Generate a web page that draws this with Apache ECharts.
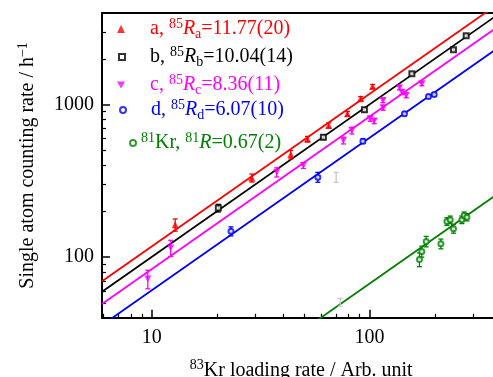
<!DOCTYPE html>
<html><head><meta charset="utf-8">
<script src="https://cdn.jsdelivr.net/npm/echarts@6/dist/echarts.min.js"></script>
<style>html,body{margin:0;padding:0;background:#fff}#c{width:493px;height:377px}</style>
</head><body><div id="c"></div>
<script>
// ---- tick values ----
const xMajorTicks = [10, 100];
const xMinorTicks = [6, 7, 8, 9, 20, 30, 40, 50, 60, 70, 80, 90, 200, 300];
const yMajorTicks = [100, 1000];
const yMinorTicks = [50, 60, 70, 80, 90, 200, 300, 400, 500, 600, 700, 800, 900, 2000, 3000];

// ---- data: a (85Kr, R=11.77) ----
const aX = [12.8, 28.8, 43.5, 51.9, 64.9, 79.2, 91.1, 103.4];
const aY = [163, 331, 471, 595, 732, 873, 1095, 1318];
const aErr = [15, 20, 30, 25, 28, 30, 35, 40];
// ---- b ----
const bX = [20.2, 61.4, 94.8, 156.6, 243.2, 278.2];
const bY = [210, 612, 927, 1597, 2296, 2837];
const bErr = [12, 20, 25, 30, 40, 45];
// ---- c ----
const cX = [9.58, 12.2, 37.5, 49.7, 75.9, 83.0, 100.7, 105.1, 115.3, 115.7, 137.4, 140.9, 147.5, 174];
const cY = [72, 115, 361, 400, 583, 678, 809, 781, 1067, 955, 1293, 1209, 1151, 1373];
const cErr = [10, 14, 25, 18, 30, 35, 30, 30, 35, 35, 40, 40, 40, 40];
// ---- d ----
const dX = [23.1, 57.9, 93.3, 144.8, 186.7, 198.3];
const dY = [148, 335, 577, 873, 1134, 1168];
const dErr = [10, 25, 20, 25, 30, 30];
// ---- 81Kr ----
const gX = [169.7, 174, 182.2, 212.9, 226.9, 234.9, 243.2, 265.8, 272.4, 280.3];
const gY = [96.6, 109, 126.8, 122.4, 171.5, 176, 153.6, 176, 187.7, 183];
const gErr = [10, 9, 10, 9, 10, 10, 10, 10, 10, 10];
// ---- faint grey points ----
const ghostX = [70.3, 73.4];
const ghostY = [335, 50.7];
const ghostErr = [25, 3];
// ---- fitted lines (endpoints) ----
const fitA = [[5.9, 69.4], [400, 4708]];
const fitB = [[5.9, 59.2], [400, 4016]];
const fitC = [[5.9, 49.3], [400, 3344]];
const fitD = [[5.9, 35.8], [400, 2428]];
const fitG = [[5.9, 3.95], [400, 268]];

const FF = 'Liberation Serif';
const RED = '#ff0000', BLK = '#000000', MAG = '#ff00ff', BLU = '#0000ff', GRN = '#008000';
const rich = {
  n: {fontSize: 20, lineHeight: 24, fontFamily: FF},
  it: {fontSize: 20, lineHeight: 24, fontFamily: FF, fontStyle: 'italic'},
  sup: {fontSize: 14, lineHeight: 13, fontFamily: FF, verticalAlign: 'top'},
  sub: {fontSize: 14, lineHeight: 17, fontFamily: FF, verticalAlign: 'bottom'},
  sp: {width: 20, fontSize: 20, lineHeight: 24}
};

function pts(X, Y) { return X.map((x, i) => [x, Y[i]]); }
function errPts(X, Y, E) { return X.map((x, i) => [x, Y[i], E[i]]); }
function errSeries(X, Y, E, color) {
  return {
    type: 'custom', z: 3, silent: true,
    data: errPts(X, Y, E),
    renderItem: function (params, api) {
      const x = api.value(0), y = api.value(1), e = api.value(2);
      const hi = api.coord([x, y + e]), lo = api.coord([x, y - e]);
      const w = 2.5;
      const st = {stroke: color, lineWidth: 1.3};
      return {type: 'group', children: [
        {type: 'line', shape: {x1: hi[0], y1: hi[1], x2: lo[0], y2: lo[1]}, style: st},
        {type: 'line', shape: {x1: hi[0] - w, y1: hi[1], x2: hi[0] + w, y2: hi[1]}, style: st},
        {type: 'line', shape: {x1: lo[0] - w, y1: lo[1], x2: lo[0] + w, y2: lo[1]}, style: st}
      ]};
    }
  };
}
function fitSeries(d, color) {
  return {type: 'line', data: d, showSymbol: false, symbol: 'none', z: 2, silent: true,
    lineStyle: {color: color, width: 1.8}, clip: true};
}
function legendComp(name, left, top, color, text, size) {
  return {
    data: [name], left: left, top: top, padding: 0, itemWidth: size, itemHeight: size,
    selectedMode: false,
    formatter: function () { return text; },
    textStyle: {color: color, fontFamily: FF, fontSize: 20, rich: rich}
  };
}
function tickLabel(v) { return '{n|' + Math.round(v) + '}'; }
const triDown = 'path://M0,0 L10,0 L5,9 Z';

const chart = echarts.init(document.getElementById('c'), null, {renderer: 'canvas'});
chart.setOption({
  animation: false,
  backgroundColor: '#fff',
  textStyle: {fontFamily: FF},
  grid: {left: 102, top: 13, width: 398.5, height: 304.8, containLabel: false, outerBoundsMode: 'none'},
  legend: [
    legendComp('a', 117, 17, RED, '{sp| }{n|a, }{sup|85}{it|R}{sub|a}{n|=11.77(20)}', 8),
    legendComp('b', 118, 45, BLK, '{sp| }{n|b, }{sup|85}{it|R}{sub|b}{n|=10.04(14)}', 6),
    legendComp('c', 117, 73, MAG, '{sp| }{n|c, }{sup|85}{it|R}{sub|c}{n|=8.36(11)}', 8),
    legendComp('d', 119, 98, BLU, '{sp| }{n|d, }{sup|85}{it|R}{sub|d}{n|=6.07(10)}', 6),
    legendComp('Kr81', 129, 131, GRN, '{sup|81}{n|Kr, }{sup|81}{it|R}{n|=0.67(2)}', 6)
  ],
  xAxis: [
    {type: 'log', logBase: 10, min: 5.9, max: 400, position: 'bottom',
      axisLine: {lineStyle: {color: '#000', width: 2}},
      axisTick: {inside: true, length: 8, lineStyle: {color: '#000', width: 1.5}, customValues: xMajorTicks},
      axisLabel: {customValues: xMajorTicks, color: '#000', fontSize: 20, margin: 8, fontFamily: FF,
        formatter: tickLabel, rich: rich},
      splitLine: {show: false}, minorTick: {show: false},
      name: '{sup|83}{n|Kr loading rate / Arb. unit}', nameLocation: 'middle', nameGap: 41,
      nameTextStyle: {color: '#000', fontFamily: FF, fontSize: 20, rich: rich}},
    {type: 'log', logBase: 10, min: 5.9, max: 400, position: 'bottom', offset: 0,
      axisLine: {show: false},
      axisTick: {inside: true, length: 4, lineStyle: {color: '#000', width: 1.2}, customValues: xMinorTicks},
      axisLabel: {show: false}, splitLine: {show: false}},
    {type: 'log', logBase: 10, min: 5.9, max: 400, position: 'top',
      axisLine: {lineStyle: {color: '#000', width: 2}},
      axisTick: {show: false}, axisLabel: {show: false}, splitLine: {show: false}}
  ],
  yAxis: [
    {type: 'log', logBase: 10, min: 40, max: 4000, position: 'left',
      axisLine: {lineStyle: {color: '#000', width: 2}},
      axisTick: {inside: true, length: 8, lineStyle: {color: '#000', width: 1.5}, customValues: yMajorTicks},
      axisLabel: {customValues: yMajorTicks, color: '#000', fontSize: 20, margin: 8, fontFamily: FF,
        formatter: tickLabel, rich: rich},
      splitLine: {show: false},
      name: '{n|Single atom counting rate / h}{sup|\u22121}', nameLocation: 'middle', nameGap: 62, nameRotate: 90,
      nameTextStyle: {color: '#000', fontFamily: FF, fontSize: 20, rich: rich}},
    {type: 'log', logBase: 10, min: 40, max: 4000, position: 'left', offset: 0,
      axisLine: {show: false},
      axisTick: {inside: true, length: 4, lineStyle: {color: '#000', width: 1.2}, customValues: yMinorTicks},
      axisLabel: {show: false}, splitLine: {show: false}}
  ],
  series: [
    fitSeries(fitA, RED), fitSeries(fitB, BLK), fitSeries(fitC, MAG), fitSeries(fitD, BLU), fitSeries(fitG, GRN),
    errSeries(ghostX, ghostY, ghostErr, '#c8c8c8'),
    errSeries(aX, aY, aErr, RED), errSeries(bX, bY, bErr, BLK), errSeries(cX, cY, cErr, MAG),
    errSeries(dX, dY, dErr, BLU), errSeries(gX, gY, gErr, GRN),
    {name: 'a', type: 'scatter', z: 4, data: pts(aX, aY), symbol: 'triangle', symbolSize: 7, itemStyle: {color: RED}},
    {name: 'b', type: 'scatter', z: 4, data: pts(bX, bY), symbol: 'emptyRect', symbolSize: 5, itemStyle: {color: BLK, borderWidth: 1.3}},
    {name: 'c', type: 'scatter', z: 4, data: pts(cX, cY), symbol: triDown, symbolSize: 7, itemStyle: {color: MAG}},
    {name: 'd', type: 'scatter', z: 4, data: pts(dX, dY), symbol: 'emptyCircle', symbolSize: 5, itemStyle: {color: BLU, borderWidth: 1.3}},
    {name: 'Kr81', type: 'scatter', z: 4, data: pts(gX, gY), symbol: 'emptyCircle', symbolSize: 5, itemStyle: {color: GRN, borderWidth: 1.3}}
  ]
});
</script>
</body></html>
